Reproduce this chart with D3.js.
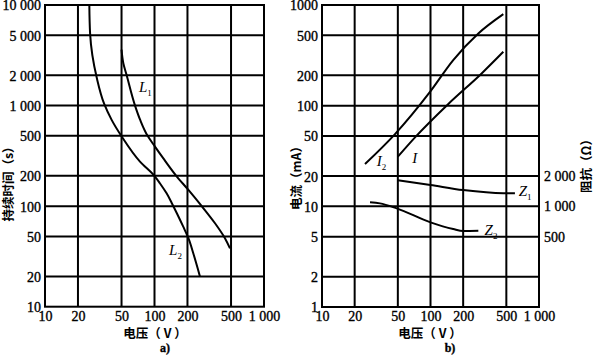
<!DOCTYPE html>
<html><head><meta charset="utf-8">
<script src="https://cdn.jsdelivr.net/npm/d3@7"></script>
<style>
body{margin:0;background:#fff;}
svg{display:block;}
.tick{font-family:"Liberation Serif","DejaVu Serif",serif;font-size:14px;fill:#000;stroke:#000;stroke-width:0.35px;}
.cjk{font-family:"Noto Sans CJK SC",sans-serif;font-size:12.5px;font-weight:bold;fill:#000;}
.lab{font-family:"Liberation Serif",serif;font-size:15px;font-style:italic;fill:#000;}
</style></head>
<body>
<svg id="c" width="595" height="356"></svg>
<script>
// ---------- data ----------
const voltTicks = [10, 20, 50, 100, 200, 500, 1000];
const voltLabels = ["10", "20", "50", "100", "200", "500", "1 000"];
const timeTicks = [10, 20, 50, 100, 200, 500, 1000, 2000, 5000, 10000];
const timeLabels = ["10", "20", "50", "100", "200", "500", "1 000", "2 000", "5 000", "10 000"];
const currTicks = [1, 2, 5, 10, 20, 50, 100, 200, 500, 1000];
const currLabels = ["1", "2", "5", "10", "20", "50", "100", "200", "500", "1000"];
const impTicks = [500, 1000, 2000];
const impLabels = ["500", "1 000", "2 000"];

// chart a) duration (s) vs voltage (V)
const L1 = [[50,3600],[51.9,2640],[55.7,2000],[66.4,1000],[74,720],[86.5,500],[101,391],[120,300],[160,197],[204,145],[270,100],[357,67.6],[440,48],[489,38]];
const L2 = [[25.4,10000],[25.8,5250],[29.7,1887],[34.8,1032],[40.6,721],[50.2,492],[73.7,277],[101,197],[112,169],[129,134],[144,107],[160,85],[183,62.5],[204,48],[226,34],[260,20]];
// chart b) current (mA) vs voltage (V)
const I2 = [[24.9,26.3],[47.1,52.2],[98.9,137],[162,284],[276,522],[469,812]];
const I  = [[50,31.1],[72,48.4],[146,104],[296,209],[469,343]];
// impedance (Ω) vs voltage (V)
const Z1 = [[50,1820],[100,1630],[200,1450],[469,1350],[600,1350]];
const Z2 = [[27.7,1096],[34.2,1070],[48.8,955],[100,693],[162,595],[200,569],[276,572]];

// ---------- drawing ----------
const svg = d3.select("#c");
svg.append("rect").attr("width",595).attr("height",356).attr("fill","#fff");

function styleAxis(a){
  a.select(".domain").remove();
  a.selectAll("text").attr("class","tick").attr("font-family",null).attr("font-size",null).attr("fill",null);
}

function panel(x0, x1, yLo, yHi, yDom, yTicks, yLabs, labX){
  const x = d3.scaleLog().domain([10,1000]).range([x0,x1]);
  const y = d3.scaleLog().domain(yDom).range([yLo,yHi]);
  const g = svg.append("g");
  voltTicks.slice(1,-1).forEach(v=>{
    g.append("line").attr("x1",x(v)).attr("x2",x(v)).attr("y1",yLo).attr("y2",yHi)
     .attr("stroke","#000").attr("stroke-width",2);
  });
  yTicks.slice(1,-1).forEach(v=>{
    g.append("line").attr("x1",x0).attr("x2",x1).attr("y1",y(v)).attr("y2",y(v))
     .attr("stroke","#000").attr("stroke-width",2);
  });
  g.append("rect").attr("x",x0).attr("y",yHi).attr("width",x1-x0).attr("height",yLo-yHi)
   .attr("fill","none").attr("stroke","#000").attr("stroke-width",2);
  const xa = g.append("g").attr("transform",`translate(0,${yLo})`)
    .call(d3.axisBottom(x).tickValues(voltTicks).tickFormat((d,i)=>voltLabels[i]).tickSize(0).tickPadding(4));
  styleAxis(xa);
  const ya = g.append("g").attr("transform",`translate(${labX},0.5)`)
    .call(d3.axisLeft(y).tickValues(yTicks).tickFormat((d,i)=>yLabs[i]).tickSize(0).tickPadding(0));
  styleAxis(ya);
  return {x,y,g};
}

const A = panel(45, 264, 306.7, 5, [10,10000], timeTicks, timeLabels, 41);
const B = panel(322, 539, 307, 5, [1,1000], currTicks, currLabels, 318);
const yZ = d3.scaleLog().domain([100,100000]).range([307,5]);

const za = svg.append("g").attr("transform","translate(544,0)")
  .call(d3.axisRight(yZ).tickValues(impTicks).tickFormat((d,i)=>impLabels[i]).tickSize(0).tickPadding(0));
styleAxis(za);

function curve(data, xs, ys, cv){
  const gen = d3.line().x(d=>xs(d[0])).y(d=>ys(d[1])).curve(cv);
  svg.append("path").attr("d", gen(data)).attr("fill","none")
    .attr("stroke","#000").attr("stroke-width",2).attr("stroke-linejoin","round");
}
curve(L1, A.x, A.y, d3.curveMonotoneY); curve(L2, A.x, A.y, d3.curveMonotoneY);
curve(I2, B.x, B.y, d3.curveMonotoneX); curve(I, B.x, B.y, d3.curveMonotoneX);
curve(Z1, B.x, yZ, d3.curveMonotoneX); curve(Z2, B.x, yZ, d3.curveMonotoneX);

function lab(xs, ys, vx, vy, main, sub){
  const t = svg.append("text").attr("class","lab").attr("x",xs(vx)).attr("y",ys(vy));
  t.append("tspan").text(main);
  if(sub) t.append("tspan").attr("dy",4).attr("font-size","9px").attr("font-style","normal").text(sub);
}
lab(A.x, A.y, 72, 1350, "L", "1");
lab(A.x, A.y, 136, 33, "L", "2");
lab(B.x, B.y, 32, 25, "I", "2");
lab(B.x, B.y, 68, 27, "I", "");
lab(B.x, yZ, 650, 1280, "Z", "1");
lab(B.x, yZ, 315, 520, "Z", "2");

function txt(x, y, s, rot){
  svg.append("text").attr("class","cjk").attr("text-anchor","middle")
    .attr("transform",`translate(${x},${y})` + (rot?` rotate(${rot})`:""))
    .attr("dy","0.35em").text(s);
}
txt(155, 334, "电压（ V ）");
txt(430, 334, "电压（ V ）");
txt(8.5, 181, "持续时间（s）", -90);
txt(297, 175, "电流（mA）", -90);
txt(587, 163, "阻抗（Ω）", -90);
svg.append("text").attr("class","tick").attr("text-anchor","middle").attr("x",165).attr("y",352).style("font-size","12px").style("font-weight","bold").text("a)");
svg.append("text").attr("class","tick").attr("text-anchor","middle").attr("x",450).attr("y",352).style("font-size","12px").style("font-weight","bold").text("b)");
</script>
</body></html>
